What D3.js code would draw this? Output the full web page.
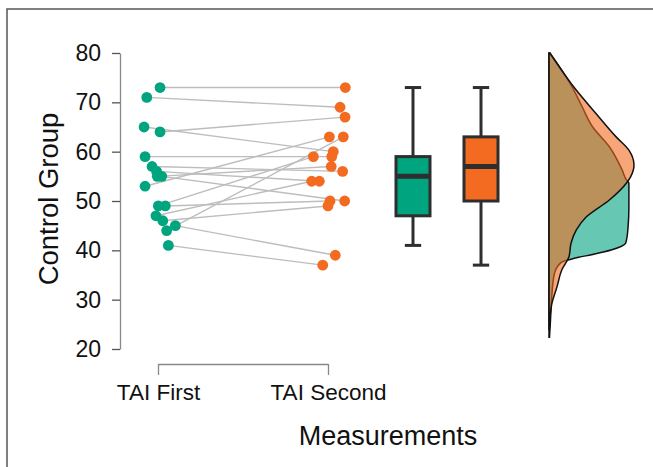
<!DOCTYPE html>
<html>
<head>
<meta charset="utf-8">
<script src="https://cdn.jsdelivr.net/npm/d3@7"></script>
<style>
  html, body { margin: 0; padding: 0; background: #fff; }
  svg { display: block; font-family: "Liberation Sans", Arial, sans-serif; }
</style>
</head>
<body>
<div id="chart"></div>
<script>
// conditions on the x axis
const conditions = ['TAI First', 'TAI Second'];

// paired scores, same index = same subject
const firstScores  = [73, 71, 65, 64, 59, 57, 56, 55, 55, 53, 49, 49, 47, 46, 45, 44, 41];
const secondScores = [73, 69, 60, 67, 59, 56, 54, 57, 50, 63, 59, 50, 54, 49, 39, 63, 37];

// horizontal jitter of each point, in condition units
const jitterFirst  = [0.012, -0.066, -0.082, 0.012, -0.076, -0.035, -0.008, -0.004, 0.022, -0.076, 0.002, 0.043, -0.012, 0.028, 0.102, 0.051, 0.061];
const jitterSecond = [0.102, 0.071, 0.031, 0.100, 0.022, 0.086, -0.051, 0.019, 0.098, 0.008, -0.086, 0.012, -0.096, 0.000, 0.043, 0.090, -0.031];

// density profiles: [score, relative density]
const densityFirst = [
  [80, 0.01], [73.2, 0.27], [69.1, 0.39], [65.1, 0.51], [61.0, 0.71], [56.3, 0.86],
  [54.3, 0.91], [53.6, 0.94], [48.8, 0.94], [44.7, 0.93], [42.0, 0.91], [41.4, 0.90],
  [40.1, 0.74], [39.1, 0.50], [38.6, 0.35], [38.2, 0.26], [37.5, 0.14], [35, 0.06],
  [30, 0.03], [26, 0.018], [22.4, 0.006]
];
const densitySecond = [
  [80, 0.01], [72.5, 0.32], [67.8, 0.55], [63.0, 0.79], [60.3, 0.94], [57.3, 1.0],
  [54.9, 0.96], [53.6, 0.91], [50.2, 0.71], [46.8, 0.44], [44.1, 0.32], [41.5, 0.26],
  [38.7, 0.235], [36.0, 0.15], [32.6, 0.094], [29.3, 0.035], [26.5, 0.012], [24, 0.003]
];

const yTicks = [20, 30, 40, 50, 60, 70, 80];

const colors = ['#00a47e', '#f26b21'];

const width = 653, height = 467;

const svg = d3.select('#chart').append('svg')
  .attr('width', width)
  .attr('height', height);

// outer frame
svg.append('path')
  .attr('d', `M7,${height} V9 H${width}`)
  .attr('fill', 'none')
  .attr('stroke', '#555')
  .attr('stroke-width', 1.5);

const x = d3.scaleLinear().domain([1, 2]).range([158, 328]);
const y = d3.scaleLinear().domain([20, 80]).range([349, 53]);

// y axis
svg.append('g')
  .attr('transform', 'translate(120,0)')
  .call(d3.axisLeft(y).tickValues(yTicks).tickSize(8).tickSizeOuter(0).tickPadding(11))
  .call(g => g.select('.domain').attr('stroke', '#888').attr('stroke-width', 1.3))
  .call(g => g.selectAll('.tick line').attr('stroke', '#555').attr('stroke-width', 1.3))
  .call(g => g.selectAll('.tick text')
    .attr('fill', '#111')
    .style('font-size', '23px')
    .style('font-family', '"Liberation Sans", Arial, sans-serif'));

// x axis
svg.append('g')
  .attr('transform', 'translate(0,364)')
  .call(d3.axisBottom(x).tickValues([1, 2]).tickFormat(d => conditions[d - 1])
    .tickSize(11).tickSizeOuter(0).tickPadding(9))
  .call(g => g.select('.domain').attr('stroke', '#888').attr('stroke-width', 1.3))
  .call(g => g.selectAll('.tick line').attr('stroke', '#888').attr('stroke-width', 1.3))
  .call(g => g.selectAll('.tick text')
    .attr('fill', '#111')
    .style('font-size', '22.5px')
    .style('font-family', '"Liberation Sans", Arial, sans-serif'));

// axis titles
svg.append('text')
  .attr('transform', 'translate(58,199) rotate(-90)')
  .attr('text-anchor', 'middle')
  .style('font-size', '27.5px')
  .attr('fill', '#111')
  .text('Control Group');

svg.append('text')
  .attr('x', 388)
  .attr('y', 445)
  .attr('text-anchor', 'middle')
  .style('font-size', '27px')
  .attr('fill', '#111')
  .text('Measurements');

// paired lines
const pairs = firstScores.map((v, i) => ({
  x1: x(1 + jitterFirst[i]), y1: y(v),
  x2: x(2 + jitterSecond[i]), y2: y(secondScores[i])
}));

svg.append('g')
  .selectAll('line')
  .data(pairs)
  .join('line')
  .attr('x1', d => d.x1).attr('y1', d => d.y1)
  .attr('x2', d => d.x2).attr('y2', d => d.y2)
  .attr('stroke', '#bdbdbd')
  .attr('stroke-width', 1.4);

// points
const groups = [firstScores, secondScores];
const jitters = [jitterFirst, jitterSecond];

groups.forEach((scores, gi) => {
  svg.append('g')
    .selectAll('circle')
    .data(scores)
    .join('circle')
    .attr('cx', (d, i) => x(gi + 1 + jitters[gi][i]))
    .attr('cy', d => y(d))
    .attr('r', 5.4)
    .attr('fill', colors[gi]);
});

// box plots
const boxCenters = [2.5, 2.9];
const boxHalf = 0.1;
const capHalf = 0.048;

groups.forEach((scores, gi) => {
  const sorted = scores.slice().sort(d3.ascending);
  const q1 = d3.quantile(sorted, 0.25);
  const med = d3.quantile(sorted, 0.5);
  const q3 = d3.quantile(sorted, 0.75);
  const iqr = q3 - q1;
  const lo = d3.min(sorted.filter(v => v >= q1 - 1.5 * iqr));
  const hi = d3.max(sorted.filter(v => v <= q3 + 1.5 * iqr));
  const c = boxCenters[gi];
  const g = svg.append('g').attr('stroke', '#2e2e2e');

  g.append('line')
    .attr('x1', x(c)).attr('x2', x(c))
    .attr('y1', y(hi)).attr('y2', y(q3))
    .attr('stroke-width', 3);
  g.append('line')
    .attr('x1', x(c)).attr('x2', x(c))
    .attr('y1', y(q1)).attr('y2', y(lo))
    .attr('stroke-width', 3);
  [hi, lo].forEach(v => {
    g.append('line')
      .attr('x1', x(c - capHalf)).attr('x2', x(c + capHalf))
      .attr('y1', y(v)).attr('y2', y(v))
      .attr('stroke-width', 3);
  });
  g.append('rect')
    .attr('x', x(c - boxHalf))
    .attr('width', x(c + boxHalf) - x(c - boxHalf))
    .attr('y', y(q3))
    .attr('height', y(q1) - y(q3))
    .attr('fill', colors[gi])
    .attr('stroke-width', 3);
  g.append('line')
    .attr('x1', x(c - boxHalf)).attr('x2', x(c + boxHalf))
    .attr('y1', y(med)).attr('y2', y(med))
    .attr('stroke-width', 5);
});

// half violins
const violinBase = 3.3;
const dens = d3.scaleLinear().domain([0, 1]).range([0, 85]);
const densities = [densityFirst, densitySecond];

densities.forEach((profile, gi) => {
  const base = x(violinBase);
  const area = d3.area()
    .y(d => y(d[0]))
    .x0(base)
    .x1(d => base + dens(d[1]))
    .curve(d3.curveMonotoneY);
  svg.append('path')
    .datum(profile)
    .attr('d', area)
    .attr('fill', colors[gi])
    .attr('fill-opacity', 0.6)
    .attr('stroke', '#111')
    .attr('stroke-width', 1.5);
});
</script>
</body>
</html>
